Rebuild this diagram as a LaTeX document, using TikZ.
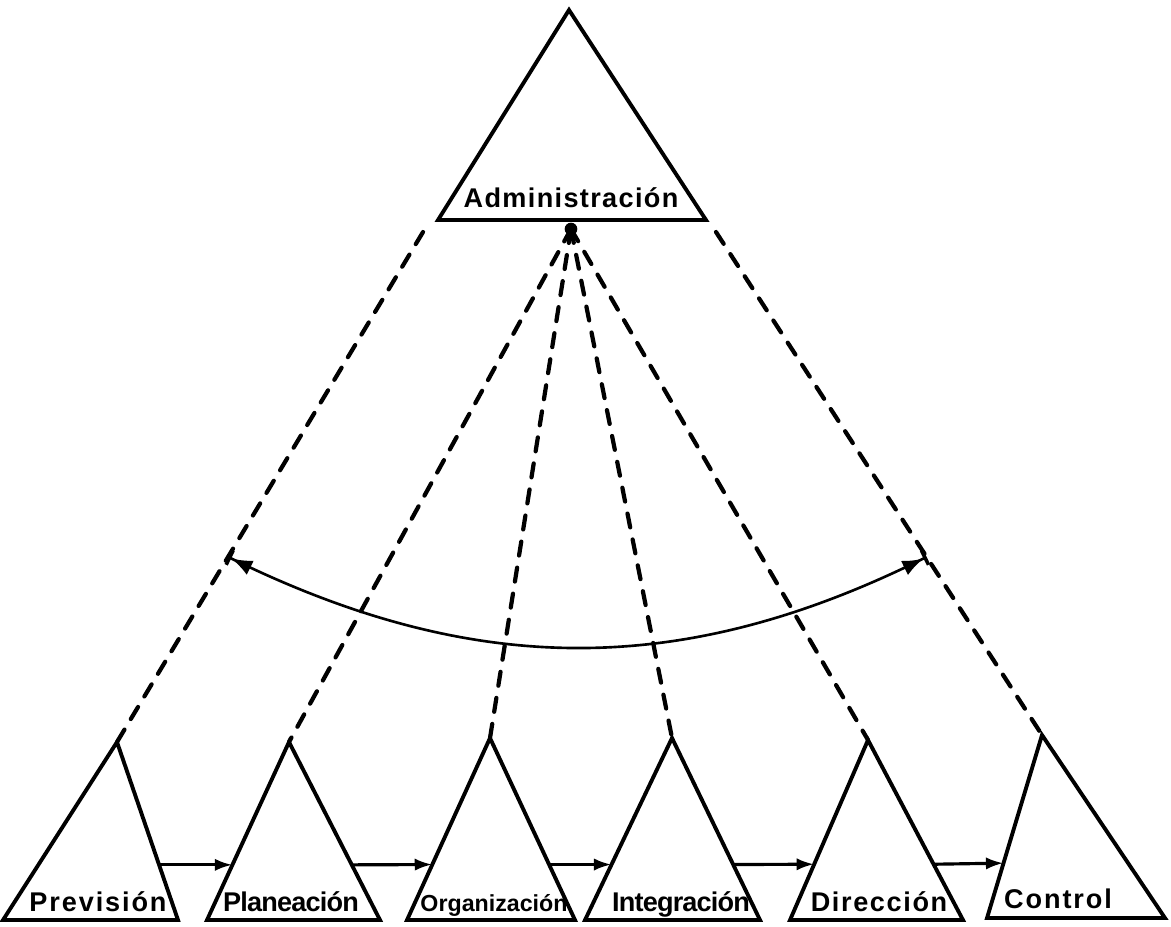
\documentclass[tikz,border=0pt]{standalone}
\usepackage{fontspec}
\setmainfont{Liberation Sans}
\usetikzlibrary{arrows.meta,calc}

\begin{document}
\begin{tikzpicture}[x=0.01cm,y=-0.01cm]
	\tikzstyle{Tri}   = [line width=1.1pt, line join=miter]
	\tikzstyle{Link}  = [line width=1.2pt, dash pattern=on 4pt off 3.5pt, line cap=round]
	\tikzstyle{Flow}  = [line width=0.9pt, -{Latex[length=5pt,width=3.5pt]}]
	\tikzstyle{Cycle} = [line width=0.75pt, {Bar[width=4.5pt,line width=1pt]Latex[length=6pt,width=4.5pt]}-{Latex[length=6pt,width=4.5pt]Bar[width=4.5pt,line width=1pt]}]
	\tikzstyle{Name}  = [inner sep=0pt, anchor=base, font=\fontsize{7.7}{9}\selectfont\bfseries]

	\useasboundingbox (0,0) rectangle (1171,926);

	% top triangle
	\coordinate (adA) at (569,10);
	\coordinate (adL) at (438,220);
	\coordinate (adR) at (706,220);
	\draw [Tri] (adA) -- (adL) -- (adR) -- cycle;
	\node (adm) at (571,207) [Name] {\addfontfeature{LetterSpace=5}Administración};

	% bottom triangles
	\coordinate (prA) at (117,742);
	\coordinate (prL) at (3,920);
	\coordinate (prR) at (178,920);
	\coordinate (plA) at (289,742);
	\coordinate (plL) at (207,920);
	\coordinate (plR) at (380,920);
	\coordinate (orA) at (490,738);
	\coordinate (orL) at (407,920);
	\coordinate (orR) at (575,920);
	\coordinate (inA) at (672,738);
	\coordinate (inL) at (585,920);
	\coordinate (inR) at (760,920);
	\coordinate (diA) at (868,740);
	\coordinate (diL) at (790,920);
	\coordinate (diR) at (963,920);
	\coordinate (coA) at (1042,735);
	\coordinate (coL) at (987,918);
	\coordinate (coR) at (1165,918);

	\draw [Tri] (prA) -- (prL) -- (prR) -- cycle;
	\draw [Tri] (plA) -- (plL) -- (plR) -- cycle;
	\draw [Tri] (orA) -- (orL) -- (orR) -- cycle;
	\draw [Tri] (inA) -- (inL) -- (inR) -- cycle;
	\draw [Tri] (diA) -- (diL) -- (diR) -- cycle;
	\draw [Tri] (coA) -- (coL) -- (coR) -- cycle;

	\node (prev) at (98,911) [Name] {\addfontfeature{LetterSpace=7}Previsión};
	\node (plan) at (291,911) [Name] {\addfontfeature{LetterSpace=-3}Planeación};
	\node (orga) at (494,911) [Name, font=\fontsize{6.6}{9}\selectfont\bfseries] {Organización};
	\node (inte) at (681,911) [Name] {\addfontfeature{LetterSpace=-3}Integración};
	\node (dire) at (879,911) [Name] {\addfontfeature{LetterSpace=6}Dirección};
	\node (cont) at (1058,908) [Name] {\addfontfeature{LetterSpace=7}Control};

	% dashed links
	\coordinate (hub) at (571,229);
	\coordinate (adLo) at (423,232);
	\coordinate (adRo) at (716,232);
	\fill (hub) circle [radius=1.8pt];
	\draw [Link] (adLo) -- (prA);
	\draw [Link] (hub) -- (plA);
	\draw [Link] (hub) -- (orA);
	\draw [Link] (hub) -- (inA);
	\draw [Link] (hub) -- (diA);
	\draw [Link] (adRo) -- (coA);

	% arc
	\coordinate (arL) at ($(adLo)!0.637!(prA)$);
	\coordinate (arR) at ($(adRo)!0.646!(coA)$);
	\draw [Cycle] (arL) .. controls (475,678) and (683,678) .. (arR);

	% sequence
	\draw [Flow] ($(prA)!0.69!(prR)$) -- ($(plA)!0.69!(plL)$);
	\draw [Flow] ($(plA)!0.69!(plR)$) -- ($(orA)!0.695!(orL)$);
	\draw [Flow] ($(orA)!0.695!(orR)$) -- ($(inA)!0.695!(inL)$);
	\draw [Flow] ($(inA)!0.695!(inR)$) -- ($(diA)!0.69!(diL)$);
	\draw [Flow] ($(diA)!0.69!(diR)$) -- ($(coA)!0.70!(coL)$);
\end{tikzpicture}
\end{document}
